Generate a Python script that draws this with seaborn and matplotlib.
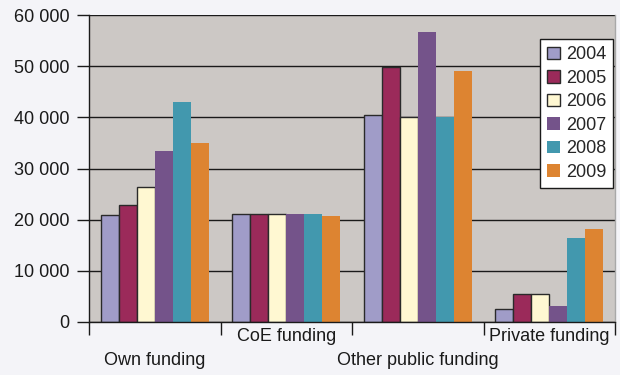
import matplotlib
matplotlib.use("Agg")
import matplotlib.pyplot as plt
import seaborn as sns
import pandas as pd
from matplotlib.ticker import FuncFormatter, FixedLocator

categories = ["Own funding", "CoE funding", "Other public funding", "Private funding"]
years = ["2004", "2005", "2006", "2007", "2008", "2009"]
v2004 = [20900, 21150, 40400, 2600]
v2005 = [22850, 21150, 49900, 5500]
v2006 = [26400, 21150, 40000, 5500]
v2007 = [33400, 21150, 56600, 3100]
v2008 = [43000, 21100, 40100, 16400]
v2009 = [35000, 20700, 49000, 18200]
yticks = [0, 10000, 20000, 30000, 40000, 50000, 60000]
colors = ["#A09CC8", "#9B2A5A", "#FFF8D2", "#74538A", "#4298AE", "#DD8431"]

series = [v2004, v2005, v2006, v2007, v2008, v2009]
rows = []
for y, vals in zip(years, series):
    for c, v in zip(categories, vals):
        rows.append({"Category": c, "Year": y, "Value": v})
df = pd.DataFrame(rows)

sns.set_theme(style="white")
plt.rcParams["font.family"] = ["Liberation Sans", "DejaVu Sans"]

FS = 13

fig = plt.figure(figsize=(6.2, 3.75), dpi=100)
fig.patch.set_facecolor("#F4F4F8")
ax = fig.add_axes([89/620, 53/375, (615-89)/620, (322-15)/375])
ax.set_facecolor("#CCC8C5")

sns.barplot(data=df, x="Category", y="Value", hue="Year", hue_order=years,
            order=categories, palette=colors, width=0.82, gap=0,
            saturation=1, ax=ax, legend=True)

for i, cont in enumerate(ax.containers):
    for p in cont:
        if i < 3:
            p.set_edgecolor("#2a2a2a")
            p.set_linewidth(1.0)
        else:
            p.set_edgecolor("none")
            p.set_linewidth(0)

ax.set_ylim(0, 60000)
ax.set_xlim(-0.5, 3.5)
ax.set_yticks(yticks)
ax.yaxis.set_major_formatter(FuncFormatter(lambda v, p: f"{int(v):,}".replace(",", " ")))
ax.grid(axis="y", color="#1a1a1a", linewidth=1.0)
ax.set_axisbelow(True)
ax.tick_params(axis="y", which="major", length=9, width=1, color="#1a1a1a",
               labelsize=FS, pad=5, left=True, labelcolor="#1a1a1a")

# category boundaries as major ticks, labels as minor ticks
ax.xaxis.set_major_locator(FixedLocator([-0.5, 0.5, 1.5, 2.5, 3.5]))
ax.xaxis.set_major_formatter(FuncFormatter(lambda v, p: ""))
ax.xaxis.set_minor_locator(FixedLocator([0, 1, 2, 3]))
labels = ["\n" + categories[0], categories[1], "\n" + categories[2], categories[3]]
ax.set_xticklabels(labels, minor=True)
ax.tick_params(axis="x", which="major", length=9, width=1, color="#1a1a1a", bottom=True)
ax.tick_params(axis="x", which="minor", length=0, labelsize=FS, pad=4, labelcolor="#1a1a1a")
for t in ax.get_xticklabels(minor=True):
    t.set_linespacing(1.55)
ax.set_xlabel("")
ax.set_ylabel("")

for s in ["left", "bottom"]:
    ax.spines[s].set_color("#1a1a1a")
    ax.spines[s].set_linewidth(1.0)
ax.spines["right"].set_color("#A8A8A8")
ax.spines["right"].set_linewidth(1.0)
ax.spines["top"].set_visible(False)

handles, lbls = ax.get_legend_handles_labels()
leg = ax.legend(handles, lbls, loc="upper right", bbox_to_anchor=(0.997, 0.922),
                frameon=True, fancybox=False, edgecolor="#1a1a1a", facecolor="white",
                fontsize=FS, handlelength=0.7, handleheight=0.7, handletextpad=0.35,
                labelspacing=0.36, borderpad=0.4, borderaxespad=0, title=None)
leg.get_frame().set_linewidth(1.0)
leg.get_frame().set_alpha(1)
for i, h in enumerate(leg.legend_handles):
    if i < 3:
        h.set_edgecolor("#2a2a2a")
        h.set_linewidth(1.0)
    else:
        h.set_edgecolor("none")

fig.savefig("out.png", dpi=100, facecolor=fig.get_facecolor())
